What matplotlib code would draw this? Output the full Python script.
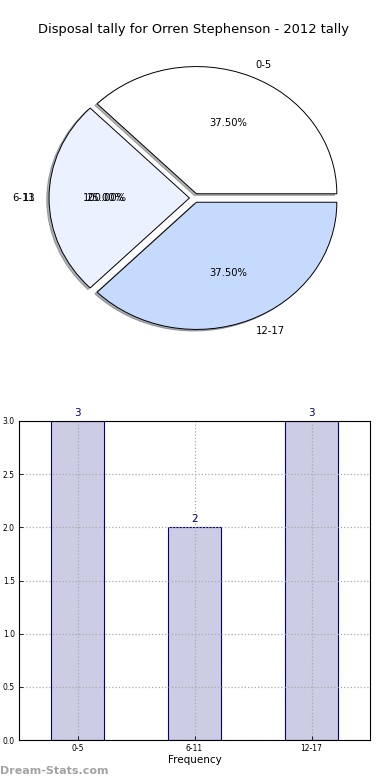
import matplotlib
matplotlib.use("Agg")
import matplotlib.pyplot as plt

# ---- data ----
title = "Disposal tally for Orren Stephenson - 2012 tally"
pie_labels = ["0-5", "6-11", "12-17"]
pie_values = [3, 2, 3]
pie_colors = ["#FFFFFF", "#EBF1FE", "#C6DAFE"]
extra_label = "13"
extra_pct = "100.00%"
bar_categories = ["0-5", "6-11", "12-17"]
bar_values = [3, 2, 3]
y_ticks = [0.0, 0.5, 1.0, 1.5, 2.0, 2.5, 3.0]

plt.rcParams['font.family'] = ['DejaVu Sans']
fig = plt.figure(figsize=(3.9, 7.8), dpi=100)

# ---- pie ----
ax1 = fig.add_axes([19/390, 1-357/780, 351/390, 318/780])
wedges, texts, autotexts = ax1.pie(
    pie_values, labels=pie_labels, colors=pie_colors,
    explode=[0.036]*len(pie_values), autopct='%1.2f%%',
    shadow={'ox': -0.012, 'oy': -0.009, 'shade': 0.6},
    startangle=0, counterclock=True,
    wedgeprops={'edgecolor': 'black', 'linewidth': 0.7},
    textprops={'fontsize': 7.2})
ax1.set_aspect('auto')
ax1.set_xlim(-1.25, 1.25)
ax1.set_ylim(-1.25, 1.25)
# overlapping extra label drawn at the second slice's label spots
tx, ty = texts[1].get_position()
ax1.text(tx, ty, extra_label, ha='right', va='center', fontsize=7.2)
px, py = autotexts[1].get_position()
ax1.text(px, py, extra_pct, ha='center', va='center', fontsize=7.2)
fig.text(194/390, 1-30/780, title, ha='center', va='center', fontsize=9.4)

# ---- bars ----
ax2 = fig.add_axes([19/390, 1-740/780, 351/390, 319/780])
xs = list(range(len(bar_categories)))
bars = ax2.bar(xs, bar_values, width=0.45, color="#CCCCE5", edgecolor="#000080", linewidth=0.8)
ax2.set_xlim(-0.5, len(bar_categories) - 0.5)
ax2.set_ylim(0, 3.0)
ax2.set_xticks(xs)
ax2.set_xticklabels(bar_categories, fontsize=5.5)
ax2.set_yticks(y_ticks)
ax2.set_yticklabels([f"{v:.1f}" for v in y_ticks], fontsize=5.5)
ax2.tick_params(direction='in', length=3, width=0.6, pad=3)
ax2.grid(True, linestyle=':', color='#AAAAAA', linewidth=0.9)
ax2.set_axisbelow(False)
for s in ax2.spines.values():
    s.set_linewidth(0.8)
    s.set_zorder(5)
for x, v in zip(xs, bar_values):
    ax2.text(x, v + 0.03, str(v), ha='center', va='bottom', color='#000080', fontsize=7.5)
ax2.set_xlabel("Frequency", fontsize=7.5, labelpad=1)

fig.text(0.0, 1-771/780, "Dream-Stats.com", ha='left', va='center', fontsize=8,
         color='#999999', fontweight='semibold', alpha=0.9)

fig.savefig("out.png", dpi=100)
